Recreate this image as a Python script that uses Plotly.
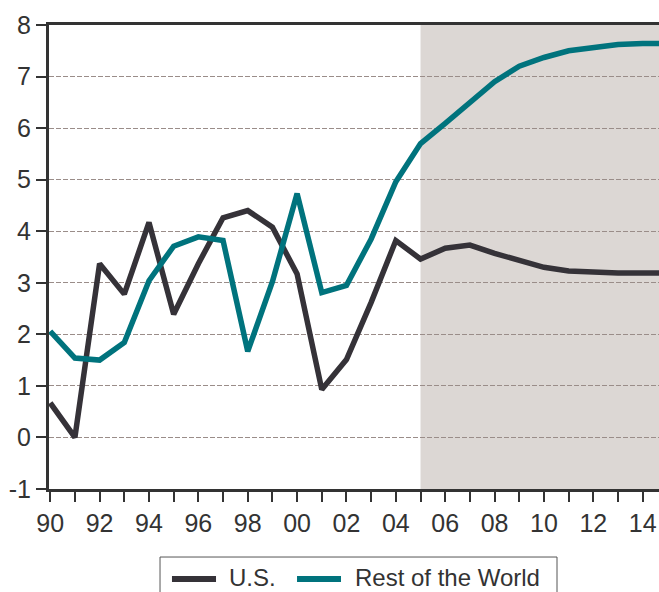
import plotly.graph_objects as go

years = list(range(1990, 2016))
us = [0.67, 0.0, 3.37, 2.78, 4.17, 2.39, 3.37, 4.26, 4.40, 4.08, 3.17, 0.93, 1.51,
      2.62, 3.82, 3.46, 3.67, 3.73, 3.57, 3.43, 3.30, 3.23, 3.20, 3.19, 3.19, 3.19]
row = [2.06, 1.54, 1.50, 1.84, 3.04, 3.71, 3.89, 3.82, 1.67, 3.02, 4.73, 2.81, 2.95,
       3.85, 4.96, 5.70, 6.09, 6.51, 6.90, 7.20, 7.37, 7.50, 7.57, 7.62, 7.64, 7.64]
series_names = ["U.S.", "Rest of the World"]
series_colors = ["#353238", "#00737d"]
tick_years = list(range(1990, 2015, 2))
tick_labels = ["90", "92", "94", "96", "98", "00", "02", "04", "06", "08", "10", "12", "14"]
y_ticks = [-1, 0, 1, 2, 3, 4, 5, 6, 7, 8]
y_labels = ["-1", "0", "1", "2", "3", "4", "5", "6", "7", "8"]
forecast_start = 2005

font = "Liberation Sans, Arial, sans-serif"
txt = "#333333"

fig = go.Figure()
for name, vals, col in zip(series_names, [us, row], series_colors):
    fig.add_trace(go.Scatter(x=years, y=vals, mode="lines", name=name,
                             line=dict(color=col, width=5.5), showlegend=False))

fig.add_shape(type="rect", xref="x", yref="y", x0=forecast_start, x1=2016,
              y0=-1, y1=8, fillcolor="#dcd7d4", line=dict(width=0), layer="below")

# legend box (custom, to match the reference spacing)
fig.add_shape(type="rect", xref="paper", yref="paper", x0=0.182, x1=0.8328,
              y0=-0.26, y1=-0.1466, line=dict(color="#555555", width=1),
              fillcolor="rgba(0,0,0,0)")
leg_sym = [(0.2016, 0.2738, 0.2934), (0.4066, 0.4787, 0.5)]
for (sx0, sx1, tx), name, col in zip(leg_sym, series_names, series_colors):
    fig.add_shape(type="line", xref="paper", yref="paper", x0=sx0, x1=sx1,
                  y0=-0.194, y1=-0.194, line=dict(color=col, width=6))
    fig.add_annotation(xref="paper", yref="paper", x=tx, y=-0.19, text=name,
                       showarrow=False, xanchor="left", yanchor="middle",
                       font=dict(size=24, color=txt, family=font), borderpad=0)

fig.update_layout(
    width=659, height=592,
    margin=dict(l=49, r=0, t=25, b=103, autoexpand=False),
    paper_bgcolor="white", plot_bgcolor="white",
    font=dict(family=font, size=24, color=txt),
    showlegend=False,
)
fig.update_xaxes(range=[1989.95, 2014.66], showgrid=False, zeroline=False,
                 automargin=False,
                 showline=True, mirror=True, linecolor="#333333", linewidth=3,
                 tickmode="array", tickvals=tick_years, ticktext=tick_labels,
                 ticks="outside", ticklen=10, tickwidth=1.5, tickcolor="#333333",
                 minor=dict(tick0=1990, dtick=1, ticks="outside", ticklen=10,
                            tickwidth=1.5, tickcolor="#333333", showgrid=False),
                 tickfont=dict(size=25, color=txt))
fig.update_yaxes(range=[-1, 8], tickmode="array", tickvals=y_ticks, ticktext=y_labels,
                 showgrid=True, gridcolor="#9a8d89",
                 griddash="5px,2px", gridwidth=1, zeroline=False, automargin=False,
                 showline=True, linecolor="#333333", linewidth=3,
                 ticks="outside", ticklen=10, tickwidth=1.5, tickcolor="#333333",
                 tickfont=dict(size=25, color=txt))

fig.write_html("out.html", config={"displayModeBar": False},
               post_script="document.body.style.margin='0';document.body.style.overflow='hidden';")
